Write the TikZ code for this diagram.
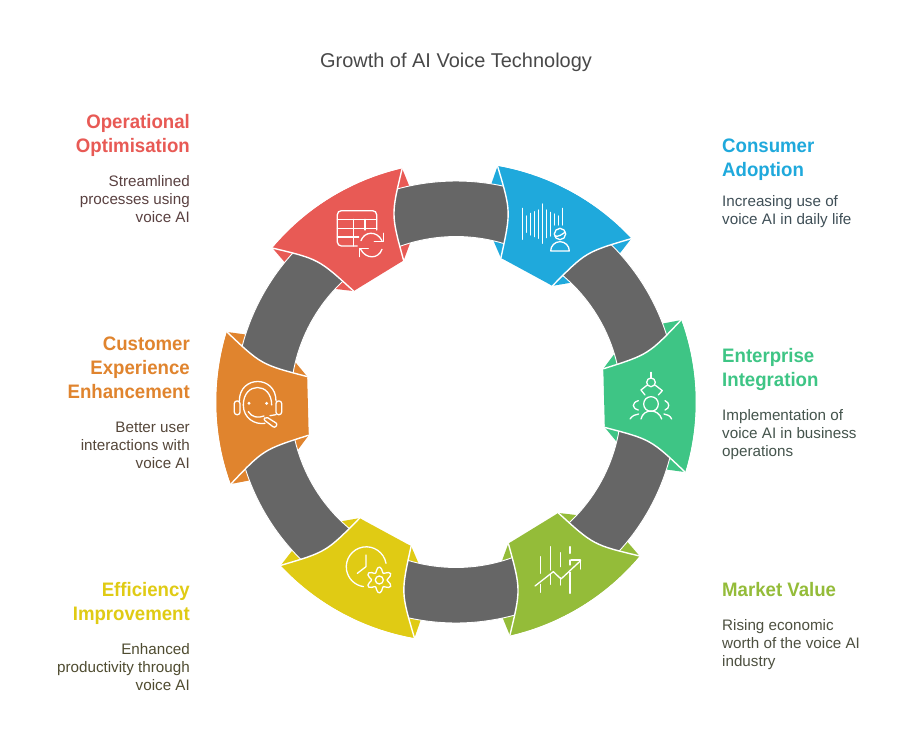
\documentclass[tikz,border=0pt]{standalone}
\usepackage{fontspec}
\setmainfont{Liberation Sans}
\definecolor{cblue}{HTML}{1FA9DC}
\definecolor{cgreen}{HTML}{3EC585}
\definecolor{clime}{HTML}{94BC39}
\definecolor{cyellow}{HTML}{E0CB14}
\definecolor{corange}{HTML}{E0842E}
\definecolor{cred}{HTML}{E85A55}
\definecolor{cgray}{HTML}{666666}
\definecolor{ctext}{HTML}{484848}
\definecolor{tred}{HTML}{5A4141}
\definecolor{torange}{HTML}{55473A}
\definecolor{tyellow}{HTML}{4F4C30}
\definecolor{tblue}{HTML}{3F4F57}
\definecolor{tgreen}{HTML}{44544C}
\definecolor{tlime}{HTML}{4D5040}
\newcommand{\ringpiece}[2]{%
  \begin{scope}[shift={(456,-402)},rotate=#1]
    \fill[#2] (18.5:239.5) .. controls (178.5,68.3) .. (11.2:151) -- (-11.2:151)
      .. controls (178.5,-68.3) .. (-18.5:239.5) arc[start angle=-18.5,end angle=18.5,radius=239.5] -- cycle;
  \end{scope}}
\newcommand{\ringlink}[1]{%
  \begin{scope}[shift={(456,-402)},rotate=#1]
    \fill[cgray,draw=white,line width=0.9pt] (0:221) arc[start angle=0,end angle=60,radius=221]
      -- (60:165.5) arc[start angle=60,end angle=0,radius=165.5] -- cycle;
  \end{scope}}
\newcommand{\ringpetal}[2]{%
  \begin{scope}[shift={(456,-402)},rotate=#1]
    \path[fill=#2] (18.5:239.5) arc[start angle=18.5,end angle=-18.5,radius=239.5]
      .. controls (193.7,-42.5) .. (-11.2:151)
      arc[start angle=-11.2,end angle=11.2,radius=151]
      .. controls (193.7,42.5) .. cycle;
    \draw[white,line width=1.4pt,line cap=round] (18.5:239.5) .. controls (193.7,42.5) .. (11.2:151);
    \draw[white,line width=1.4pt,line cap=round] (-18.5:239.5) .. controls (193.7,-42.5) .. (-11.2:151);
  \end{scope}}
\tikzset{
  icon/.style={draw=white,line width=1.3pt,line cap=round,line join=round},
  headingr/.style={anchor=base east,font=\fontsize{19.5}{24}\selectfont\bfseries\addfontfeature{FakeStretch=0.955},inner sep=0pt,align=right},
  headl/.style={anchor=base west,font=\fontsize{19.5}{24}\selectfont\bfseries\addfontfeature{FakeStretch=0.955},inner sep=0pt,align=left},
  bodyl/.style={anchor=base west,font=\fontsize{15.2}{18}\selectfont,inner sep=0pt,align=left},
  bodyr/.style={anchor=base east,font=\fontsize{15.2}{18}\selectfont,inner sep=0pt,align=right},
}
\begin{document}
\begin{tikzpicture}[x=1pt,y=1pt]
\useasboundingbox (0,-744) rectangle (912,0);
\fill[white] (0,-744) rectangle (912,0);
\ringpiece{61.5}{cblue}
\ringpiece{1.5}{cgreen}
\ringpiece{-58.5}{clime}
\ringpiece{241.5}{cyellow}
\ringpiece{181.5}{corange}
\ringpiece{121.5}{cred}
\ringlink{1.5}\ringlink{61.5}\ringlink{121.5}\ringlink{181.5}\ringlink{241.5}\ringlink{301.5}
\ringpetal{61.5}{cblue}
\ringpetal{1.5}{cgreen}
\ringpetal{-58.5}{clime}
\ringpetal{241.5}{cyellow}
\ringpetal{181.5}{corange}
\ringpetal{121.5}{cred}

% icon: consumer adoption
\begin{scope}[shift={(480,-150)},x=0.3333pt,y=-0.3333pt]
\foreach \xx/\aa/\bb in {128/175/268,140/198/247,151/190/255,163/185/260,176/180/265,188/162/280,200/180/263,212/187/258,224/192/225,236/198/225,248/175/225}
  \draw[icon] (\xx,\aa) -- (\xx,\bb);
\draw[icon] (240,252) circle (17);
\draw[icon] (224,258) .. controls (235,262) and (248,252) .. (256,246);
\draw[icon] (212,303) -- (268,303) arc[start angle=0,end angle=-180,radius=28];
\end{scope}
% icon: operational optimisation
\begin{scope}[shift={(260,-150)},x=0.3333pt,y=-0.3333pt]
\draw[icon] (292,288) -- (244,288) arc[start angle=90,end angle=180,radius=12] -- (232,194)
  arc[start angle=180,end angle=270,radius=12] -- (338,182) arc[start angle=270,end angle=360,radius=12] -- (350,240);
\draw[icon] (232,208) -- (350,208);
\draw[icon] (232,235) -- (350,235);
\draw[icon] (232,261) -- (296,261);
\draw[icon] (280,208) -- (280,288);
\draw[icon] (315,208) -- (315,240);
\draw[icon] (303,272) .. controls (312,245) and (350,240) .. (366,272);
\draw[icon] (343,274) -- (370,274) -- (370,250);
\draw[icon] (366,298) .. controls (355,328) and (318,328) .. (302,298);
\draw[icon] (325,296) -- (298,296) -- (298,320);
\end{scope}
% icon: customer experience
\begin{scope}[shift={(200,-320)},x=0.3333pt,y=-0.3333pt]
\draw[icon] (118,243) .. controls (118,165) and (228,165) .. (228,243);
\draw[icon] (130,255) .. controls (130,185) and (215,185) .. (215,255);
\draw[icon,rounded corners=2.5pt] (103,243) rectangle (120,284);
\draw[icon,rounded corners=2.5pt] (228,243) rectangle (245,284);
\draw[icon] (130,255) .. controls (130,295) and (165,315) .. (195,310);
\draw[icon] (145,275) .. controls (155,292) and (175,295) .. (192,288);
\draw[icon] (228,284) -- (210,287);
\draw[icon,rounded corners=2pt] (198,290) -- (233,312) -- (224,324) -- (190,298) -- cycle;
\fill[white] (147,250) circle (5);
\fill[white] (200,250) circle (5);
\end{scope}
% icon: enterprise integration
\begin{scope}[shift={(590,-310)},x=0.3333pt,y=-0.3333pt]
\draw[icon] (183,187) -- (183,204);
\draw[icon] (183,217) circle (13);
\draw[icon] (172,225) -- (153,240) -- (165,255);
\draw[icon] (195,225) -- (217,242) -- (205,255);
\draw[icon] (183,282) circle (22);
\draw[icon] (153,327) .. controls (160,295) and (205,295) .. (215,327);
\draw[icon] (145,272) .. controls (125,278) and (125,295) .. (145,300);
\draw[icon] (225,272) .. controls (240,278) and (240,295) .. (225,300);
\draw[icon] (120,327) .. controls (127,317) and (136,313) .. (146,312);
\draw[icon] (245,327) .. controls (240,317) and (232,313) .. (222,312);
\end{scope}
% icon: efficiency
\begin{scope}[shift={(270,-505)},x=0.3333pt,y=-0.3333pt]
\draw[icon] (348,175) arc[start angle=-10,end angle=-262,radius=60];
\draw[icon] (288,150) -- (288,185) -- (262,205);
\draw[icon] (328,225) circle (12);
\draw[icon] plot[smooth cycle,samples=37,domain=0:350,variable=\t] ({328+(31+8*cos(6*(\t-30)))*cos(\t)},{225+(31+8*cos(6*(\t-30)))*sin(\t)});
\end{scope}
% icon: market value
\begin{scope}[shift={(490,-505)},x=0.3333pt,y=-0.3333pt]
\draw[icon] (152,155) -- (152,205);
\draw[icon] (152,238) -- (152,262);
\draw[icon] (182,125) -- (182,195);
\draw[icon] (182,208) -- (182,238);
\draw[icon] (212,143) -- (212,185);
\draw[icon] (212,218) -- (212,240);
\draw[icon] (240,125) -- (240,145);
\draw[icon] (240,165) -- (240,180);
\draw[icon] (240,202) -- (240,265);
\draw[icon] (135,243) -- (190,200) -- (213,222) -- (272,167);
\draw[icon] (243,165) -- (272,165) -- (272,192);
\end{scope}

% title
\node[anchor=base,inner sep=0pt,font=\fontsize{19.95}{24}\selectfont,text=ctext] (title) at (456,-67.5) {Growth of AI Voice Technology};

% left
\node[headingr,text=cred] (h1a) at (190,-128) {Operational};
\node[headingr,text=cred] (h1b) at (190,-152) {Optimisation};
\node[bodyr,text=tred] (b1a) at (190,-186) {Streamlined};
\node[bodyr,text=tred] (b1b) at (190,-204) {processes using};
\node[bodyr,text=tred] (b1c) at (190,-222) {voice AI};

\node[headingr,text=corange] (h2a) at (190,-350) {Customer};
\node[headingr,text=corange] (h2b) at (190,-374) {Experience};
\node[headingr,text=corange] (h2c) at (190,-398) {Enhancement};
\node[bodyr,text=torange] (b2a) at (190,-432) {Better user};
\node[bodyr,text=torange] (b2b) at (190,-450) {interactions with};
\node[bodyr,text=torange] (b2c) at (190,-468) {voice AI};

\node[headingr,text=cyellow] (h3a) at (190,-596) {Efficiency};
\node[headingr,text=cyellow] (h3b) at (190,-620) {Improvement};
\node[bodyr,text=tyellow] (b3a) at (190,-654) {Enhanced};
\node[bodyr,text=tyellow] (b3b) at (190,-672) {productivity through};
\node[bodyr,text=tyellow] (b3c) at (190,-690) {voice AI};

% right
\node[headl,text=cblue] (h4a) at (722,-152) {Consumer};
\node[headl,text=cblue] (h4b) at (722,-176) {Adoption};
\node[bodyl,text=tblue] (b4a) at (722,-206) {Increasing use of};
\node[bodyl,text=tblue] (b4b) at (722,-224) {voice AI in daily life};

\node[headl,text=cgreen] (h5a) at (722,-362) {Enterprise};
\node[headl,text=cgreen] (h5b) at (722,-386) {Integration};
\node[bodyl,text=tgreen] (b5a) at (722,-420) {Implementation of};
\node[bodyl,text=tgreen] (b5b) at (722,-438) {voice AI in business};
\node[bodyl,text=tgreen] (b5c) at (722,-456) {operations};

\node[headl,text=clime] (h6a) at (722,-596) {Market Value};
\node[bodyl,text=tlime] (b6a) at (722,-630) {Rising economic};
\node[bodyl,text=tlime] (b6b) at (722,-648) {worth of the voice AI};
\node[bodyl,text=tlime] (b6c) at (722,-666) {industry};
\end{tikzpicture}
\end{document}
